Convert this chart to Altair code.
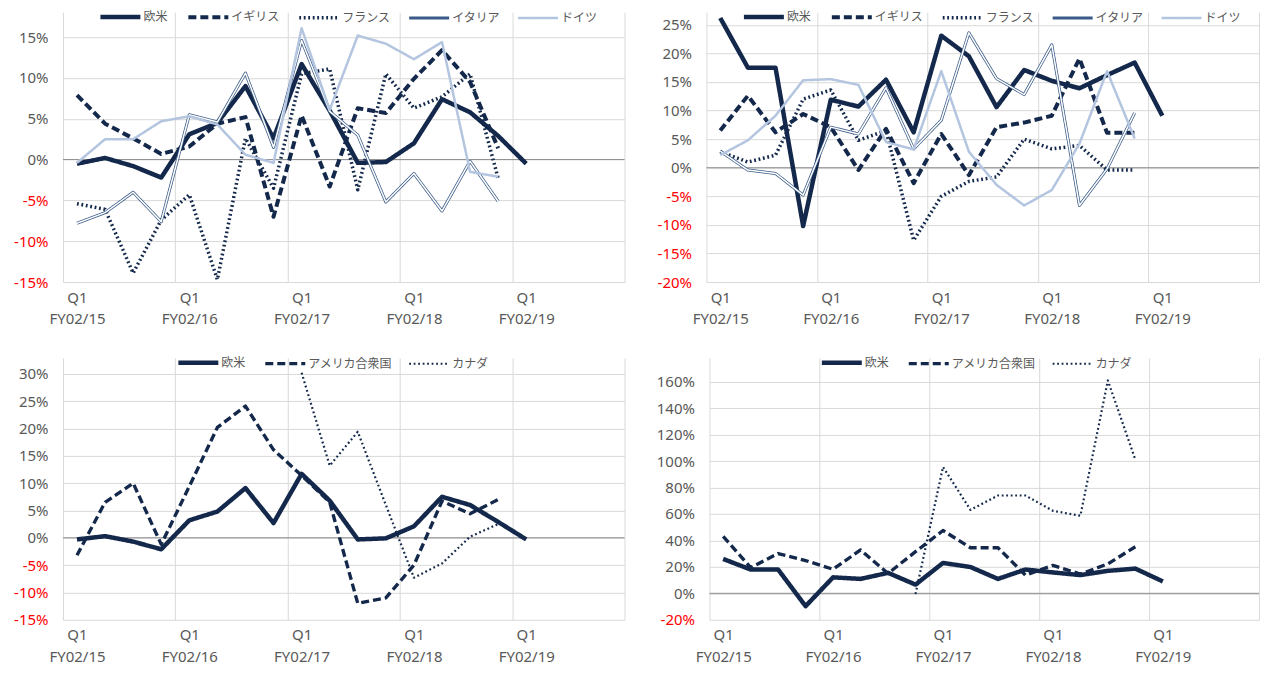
import altair as alt
import pandas as pd

# ---------------- data (percent) ----------------
N_Q = 20
fy_labels = ["FY02/15", "FY02/16", "FY02/17", "FY02/18", "FY02/19"]
q_label = "Q1"

names_eu = ["欧米", "イギリス", "フランス", "イタリア", "ドイツ"]
names_na = ["欧米", "アメリカ合衆国", "カナダ"]

# top-left panel
p1_euro = [-0.5, 0.2, -0.8, -2.2, 3.1, 4.5, 9.0, 2.6, 11.7, 6.0, -0.4, -0.3, 2.0, 7.4, 5.8, 2.9, -0.5]
p1_uk = [7.9, 4.4, 2.6, 0.7, 1.6, 4.4, 5.2, -7.0, 5.4, -3.3, 6.3, 5.7, 9.9, 13.4, 9.5, 1.4]
p1_fr = [-5.4, -6.1, -13.9, -7.4, -4.3, -14.7, 2.6, -3.5, 10.5, 11.1, -3.7, 10.5, 6.3, 7.7, 10.5, -2.3]
p1_it = [-7.8, -6.5, -4.0, -7.6, 5.5, 4.6, 10.6, 1.5, 14.6, 5.9, 3.0, -5.2, -1.7, -6.3, -0.2, -5.1]
p1_de = [-0.4, 2.5, 2.5, 4.7, 5.3, 4.3, 0.6, -0.4, 16.1, 6.1, 15.2, 14.2, 12.3, 14.4, -1.5, -2.1]

# top-right panel
p2_euro = [26.2, 17.5, 17.5, -10.2, 11.9, 10.7, 15.4, 6.2, 23.1, 19.5, 10.6, 17.1, 15.2, 13.9, 16.2, 18.4, 9.1]
p2_uk = [6.5, 12.6, 6.2, 9.4, 7.1, -0.4, 6.8, -2.7, 5.9, -1.3, 7.1, 7.9, 9.1, 19.1, 6.1, 6.1]
p2_fr = [2.8, 1.0, 2.2, 12.0, 13.6, 4.8, 6.5, -12.7, -5.0, -2.4, -1.6, 5.0, 3.3, 3.9, -0.4, -0.4]
p2_it = [2.9, -0.4, -1.0, -4.8, 7.1, 5.9, 14.0, 3.3, 8.3, 23.6, 15.6, 12.8, 21.5, -6.6, -0.2, 9.6]
p2_de = [2.2, 4.8, 9.1, 15.3, 15.5, 14.5, 4.5, 3.2, 16.9, 2.8, -3.0, -6.6, -3.9, 4.2, 16.9, 5.1]

# bottom-left panel
p3_euro = [-0.3, 0.3, -0.7, -2.1, 3.2, 4.8, 9.1, 2.7, 11.7, 6.8, -0.3, -0.1, 2.1, 7.5, 6.0, 2.9, -0.3]
p3_us = [-3.2, 6.5, 10.0, -1.2, 9.4, 20.2, 24.1, 16.1, 11.4, 6.5, -12.0, -11.0, -5.0, 6.7, 4.4, 7.0]
p3_ca = [None, None, None, None, None, None, None, None, 30.2, 13.2, 19.4, 6.0, -7.3, -4.7, 0.2, 2.5]

# bottom-right panel
p4_euro = [26.0, 18.0, 18.0, -9.7, 12.1, 10.9, 15.5, 6.6, 23.0, 19.9, 10.9, 18.0, 15.8, 13.8, 17.0, 18.7, 9.0]
p4_us = [43.0, 19.4, 30.1, 24.8, 18.2, 32.8, 15.0, 31.5, 47.5, 34.5, 34.5, 13.8, 21.1, 14.6, 22.3, 35.2]
p4_ca = [None, None, None, None, None, None, None, -0.5, 95.6, 63.1, 74.0, 74.0, 62.4, 58.7, 161.0, 101.0]

# ---------------- styles ----------------
NAVY = "#13284A"
ITALY = "#3A5B87"
GERMANY = "#B4C5E0"
style_eu = {
    "欧米": dict(color=NAVY, dash=[1, 0], width=4.5),
    "イギリス": dict(color=NAVY, dash=[8, 4], width=2.5),
    "フランス": dict(color=NAVY, dash=[1.8, 2.7], width=1.9),
    "イタリア": dict(color=ITALY, dash=[1, 0], width=4.0),
    "ドイツ": dict(color=GERMANY, dash=[1, 0], width=4.0),
}
style_na = {
    "欧米": dict(color=NAVY, dash=[1, 0], width=4.5),
    "アメリカ合衆国": dict(color=NAVY, dash=[8, 4], width=2.2),
    "カナダ": dict(color=NAVY, dash=[1.8, 2.7], width=1.9),
}

GRID = "#D9D9D9"
TXT = "#595959"


def make_panel(names, series, styles, ydomain, yticks, width, height,
               axis_extent, legend_x, legend_y):
    rows = []
    for name, vals in zip(names, series):
        for i, v in enumerate(vals):
            if v is not None:
                rows.append({"i": i, "v": v / 100.0, "s": name})
    df = pd.DataFrame(rows)

    cat_w = width / N_Q
    grid_vals = [k - 0.5 for k in range(0, N_Q + 1, 4)]
    lab_arr = "[" + ",".join("'%s'" % t for t in fy_labels) + "]"
    x_label_expr = ("datum.value < %d ? ['%s', %s[floor((datum.value + 0.5) / 4)]] : ''"
                    % (N_Q - 2, q_label, lab_arr))

    x_enc = alt.X(
        "i:Q",
        scale=alt.Scale(domain=[-0.5, N_Q - 0.5], nice=False, zero=False),
        axis=alt.Axis(
            values=grid_vals, tickCount=len(grid_vals), grid=True, gridColor=GRID,
            gridWidth=1, domain=False, ticks=False, tickSize=0,
            labelExpr=x_label_expr,
            labelOffset={"condition": {"test": "datum.value > %d" % (N_Q - 2), "value": 0},
                         "value": cat_w / 2},
            labelPadding=8, labelFontSize=15, labelFont="Noto Sans",
            labelColor=TXT, labelLineHeight=22, labelOverlap=False,
            labelFlush=False, labelBound=False, title=None,
        ),
    )
    y_enc = alt.Y(
        "v:Q",
        scale=alt.Scale(domain=ydomain, nice=False, zero=False),
        axis=alt.Axis(
            values=yticks, tickCount=len(yticks), grid=True, gridColor=GRID,
            gridWidth=1, domain=False, ticks=False, tickSize=0,
            labelExpr="(datum.value < 0 ? '-' : '') + format(abs(datum.value), '.0%')",
            labelColor={"condition": {"test": "datum.value < 0", "value": "#FF0000"}, "value": TXT},
            labelPadding=15, labelFontSize=15, labelFont="Noto Sans",
            labelOverlap=False, minExtent=axis_extent, maxExtent=axis_extent, title=None,
        ),
    )

    legend = alt.Legend(
        orient="none", legendX=legend_x, legendY=legend_y, direction="horizontal",
        title=None, symbolType="M-4,0H4", symbolSize=100, labelFontSize=12,
        labelFont="Noto Sans CJK JP", labelColor=TXT, labelOffset=15.5,
        columnPadding=12, rowPadding=0, padding=0, columns=len(names),
    )
    c_scale = alt.Scale(domain=names, range=[styles[n]["color"] for n in names])
    d_scale = alt.Scale(domain=names, range=[styles[n]["dash"] for n in names])
    w_scale = alt.Scale(domain=names, range=[styles[n]["width"] for n in names])

    base = alt.Chart(df).encode(x=x_enc, y=y_enc)
    zero = alt.Chart(pd.DataFrame({"z": [0.0]})).mark_rule(
        color="#8C8C8C", strokeWidth=1).encode(y=alt.Y("z:Q"))

    layers = [zero]
    for n in names:
        ln = base.transform_filter(alt.datum.s == n).mark_line(
            strokeJoin="round").encode(
            color=alt.Color("s:N", scale=c_scale, legend=legend),
            strokeDash=alt.StrokeDash("s:N", scale=d_scale, legend=legend),
            strokeWidth=alt.StrokeWidth("s:N", scale=w_scale, legend=legend),
        )
        layers.append(ln)
        if n == "イタリア":
            layers.append(base.transform_filter(alt.datum.s == n).mark_line(
                color="white", strokeWidth=1.5, strokeJoin="round"))
    return alt.layer(*layers).properties(width=width, height=height)


p1 = make_panel(names_eu, [p1_euro, p1_uk, p1_fr, p1_it, p1_de], style_eu,
                [-0.15, 0.1805], [-0.15, -0.10, -0.05, 0.0, 0.05, 0.10, 0.15],
                562, 270, 55, 50, -3)
p2 = make_panel(names_eu, [p2_euro, p2_uk, p2_fr, p2_it, p2_de], style_eu,
                [-0.20, 0.272], [-0.20, -0.15, -0.10, -0.05, 0.0, 0.05, 0.10, 0.15, 0.20, 0.25],
                553, 270, 55, 50, -3)
p3 = make_panel(names_na, [p3_euro, p3_us, p3_ca], style_na,
                [-0.15, 0.329], [-0.15, -0.10, -0.05, 0.0, 0.05, 0.10, 0.15, 0.20, 0.25, 0.30],
                562, 262, 55, 128, -3)
p4 = make_panel(names_na, [p4_euro, p4_us, p4_ca], style_na,
                [-0.20, 1.78], [-0.20, 0.0, 0.20, 0.40, 0.60, 0.80, 1.00, 1.20, 1.40, 1.60],
                550, 262, 58, 125, -3)

res = dict(x="independent", y="independent", color="independent",
           strokeDash="independent", strokeWidth="independent")
top = alt.hconcat(p1, p2, spacing=26).resolve_scale(**res)
bottom = alt.hconcat(p3, p4, spacing=26).resolve_scale(**res)
chart = alt.vconcat(top, bottom, spacing=28).resolve_scale(**res).properties(
    padding={"top": 1, "bottom": 0, "left": 0, "right": 0}).configure_view(stroke=None)

chart.save("out.html", embed_options={"renderer": "svg", "actions": False})
